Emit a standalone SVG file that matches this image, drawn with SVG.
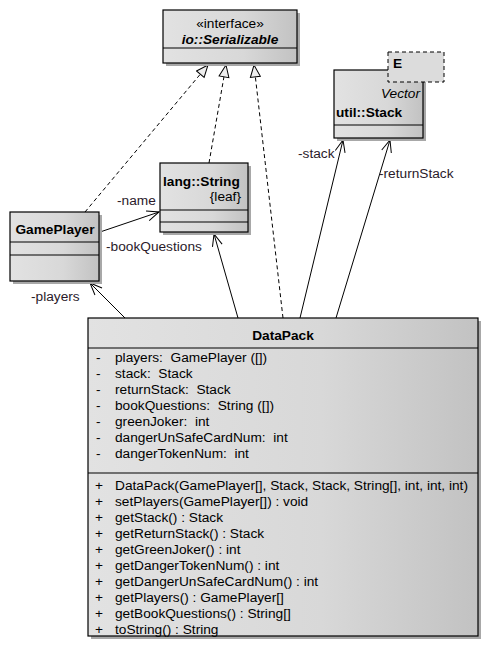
<svg xmlns="http://www.w3.org/2000/svg" width="489" height="647" viewBox="0 0 489 647" xml:space="preserve">
<style>
text{font-family:"Liberation Sans",Arial,sans-serif;font-size:13.7px;fill:#000;white-space:pre}
.b{font-weight:bold}
.box{fill:url(#g);stroke:#000;stroke-width:1.2}
.sh{fill:#a8a8a8}
.div{stroke:#000;stroke-width:1.2}
.dash{fill:none;stroke:#000;stroke-width:1;stroke-dasharray:4,3}
.assoc{fill:none;stroke:#000;stroke-width:1}
.lbl{fill:#2a1a2a}
</style>
<defs>
<linearGradient id="g" x1="0" y1="0" x2="1" y2="0">
<stop offset="0" stop-color="#e2e2e2"/>
<stop offset="0.6" stop-color="#d8d8d8"/>
<stop offset="1" stop-color="#c2c2c2"/>
</linearGradient>
<marker id="tri" markerUnits="userSpaceOnUse" markerWidth="14" markerHeight="12" refX="13" refY="6" orient="auto">
<path d="M1,1 L13,6 L1,11 Z" fill="#eeeeee" stroke="#000" stroke-width="1"/>
</marker>
<marker id="open" markerUnits="userSpaceOnUse" markerWidth="14" markerHeight="12" refX="13" refY="6" orient="auto">
<path d="M1,1 L13,6 L1,11" fill="none" stroke="#000" stroke-width="1"/>
</marker>
</defs>
<g id="connectors">
<line class="dash" x1="85" y1="212" x2="208" y2="65" marker-end="url(#tri)"/>
<line class="dash" x1="209" y1="163" x2="226" y2="65" marker-end="url(#tri)"/>
<line class="dash" x1="283" y1="318" x2="254" y2="65" marker-end="url(#tri)"/>
<line class="assoc" x1="100" y1="232" x2="159" y2="212" marker-end="url(#open)"/>
<line class="assoc" x1="125" y1="318" x2="90" y2="283" marker-end="url(#open)"/>
<line class="assoc" x1="238" y1="318" x2="214" y2="234" marker-end="url(#open)"/>
<line class="assoc" x1="300" y1="318" x2="343" y2="140" marker-end="url(#open)"/>
<line class="assoc" x1="336" y1="318" x2="390" y2="140" marker-end="url(#open)"/>
<text class="lbl" x="117" y="205">-name</text>
<text class="lbl" x="106" y="251">-bookQuestions</text>
<text class="lbl" x="31" y="301">-players</text>
<text class="lbl" x="298" y="158">-stack</text>
<text class="lbl" x="379" y="178">-returnStack</text>
</g>
<g id="serializable">
<rect class="sh" x="166" y="13" width="134" height="53"/>
<rect class="box" x="163" y="10" width="134" height="53"/>
<line class="div" x1="163" y1="48" x2="297" y2="48"/>
<text x="230" y="28" text-anchor="middle">«interface»</text>
<text class="b" x="230" y="44" text-anchor="middle" font-style="italic">io::Serializable</text>
</g>
<g id="stack">
<rect class="sh" x="337" y="73" width="89" height="68"/>
<rect class="box" x="334" y="70" width="89" height="68"/>
<line class="div" x1="334" y1="125" x2="423" y2="125"/>
<rect x="388" y="52" width="56" height="30" fill="#dcdcdc" stroke="#000" stroke-width="1" stroke-dasharray="4,3"/>
<text class="b" x="393" y="68">E</text>
<text x="420" y="98" text-anchor="end" font-style="italic">Vector</text>
<text class="b" x="336" y="117">util::Stack</text>
</g>
<g id="string">
<rect class="sh" x="163" y="166" width="88" height="69"/>
<rect class="box" x="160" y="163" width="88" height="69"/>
<line class="div" x1="160" y1="210" x2="248" y2="210"/>
<line class="div" x1="160" y1="222" x2="248" y2="222"/>
<text class="b" x="163" y="186">lang::String</text>
<text x="241" y="201" text-anchor="end">{leaf}</text>
</g>
<g id="gameplayer">
<rect class="sh" x="13" y="215" width="89" height="69"/>
<rect class="box" x="10" y="212" width="89" height="69"/>
<line class="div" x1="10" y1="242" x2="99" y2="242"/>
<line class="div" x1="10" y1="255" x2="99" y2="255"/>
<text class="b" x="55" y="234" text-anchor="middle">GamePlayer</text>
</g>
<g id="datapack">
<rect class="sh" x="91" y="321" width="390" height="318"/>
<rect class="box" x="88" y="318" width="390" height="318"/>
<line class="div" x1="88" y1="348" x2="478" y2="348"/>
<line class="div" x1="88" y1="473" x2="478" y2="473"/>
<text class="b" x="283" y="340" text-anchor="middle">DataPack</text>
<g>
<text x="96" y="362">-</text><text x="115" y="362">players:  GamePlayer ([])</text>
<text x="96" y="378">-</text><text x="115" y="378">stack:  Stack</text>
<text x="96" y="394">-</text><text x="115" y="394">returnStack:  Stack</text>
<text x="96" y="410">-</text><text x="115" y="410">bookQuestions:  String ([])</text>
<text x="96" y="426">-</text><text x="115" y="426">greenJoker:  int</text>
<text x="96" y="442">-</text><text x="115" y="442">dangerUnSafeCardNum:  int</text>
<text x="96" y="458">-</text><text x="115" y="458">dangerTokenNum:  int</text>
</g>
<g>
<text x="95" y="490">+</text><text x="115" y="490">DataPack(GamePlayer[], Stack, Stack, String[], int, int, int)</text>
<text x="95" y="506">+</text><text x="115" y="506">setPlayers(GamePlayer[]) : void</text>
<text x="95" y="522">+</text><text x="115" y="522">getStack() : Stack</text>
<text x="95" y="538">+</text><text x="115" y="538">getReturnStack() : Stack</text>
<text x="95" y="554">+</text><text x="115" y="554">getGreenJoker() : int</text>
<text x="95" y="570">+</text><text x="115" y="570">getDangerTokenNum() : int</text>
<text x="95" y="586">+</text><text x="115" y="586">getDangerUnSafeCardNum() : int</text>
<text x="95" y="602">+</text><text x="115" y="602">getPlayers() : GamePlayer[]</text>
<text x="95" y="618">+</text><text x="115" y="618">getBookQuestions() : String[]</text>
<text x="95" y="634">+</text><text x="115" y="634">toString() : String</text>
</g>
</g>
</svg>
